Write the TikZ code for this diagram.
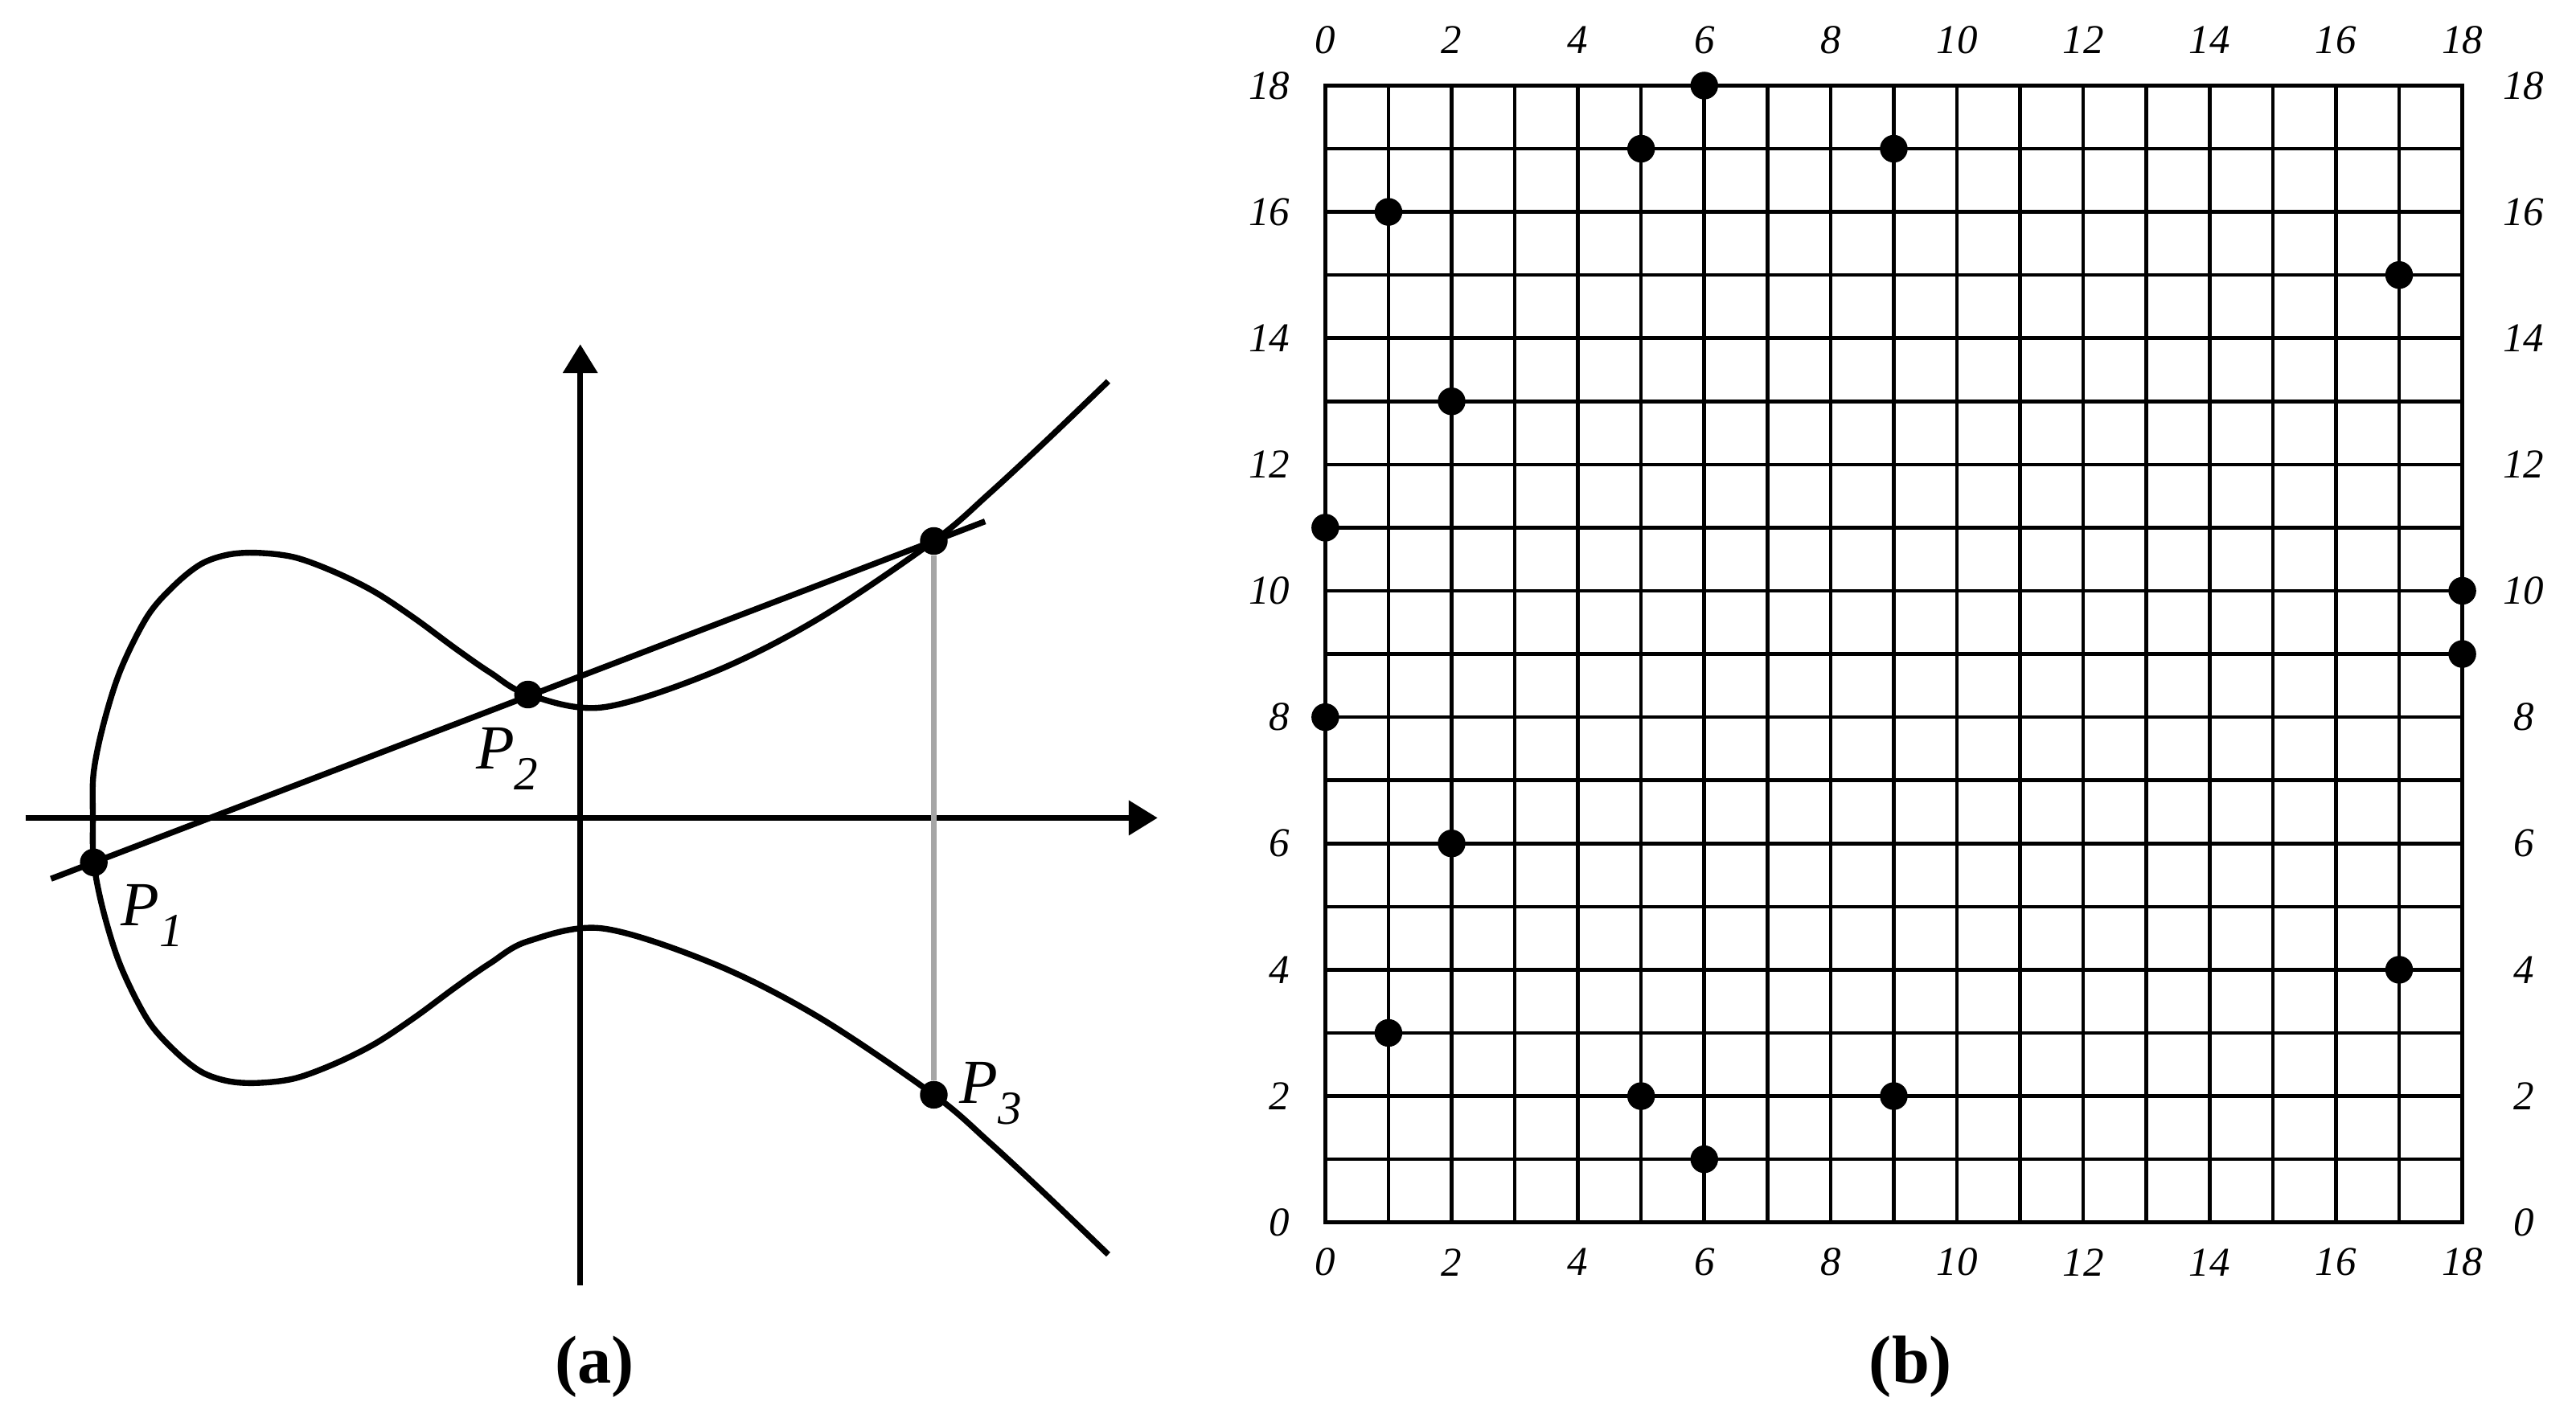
\documentclass[tikz,border=0pt]{standalone}
\usepackage{fontspec}
\setmainfont{Liberation Serif}
\usetikzlibrary{arrows.meta,calc}

% point label P with a lowered index
\newcommand{\ptname}[1]{P\raisebox{-7.3pt}{\fontsize{16.8}{17}\selectfont #1}}

\begin{document}
\begin{tikzpicture}[x=0.7856cm, y=0.7856cm,
  curve/.style={line width=2.1pt},
  axis/.style={line width=2.1pt, -{Triangle[length=10.2pt, width=11.9pt]}},
  dot/.style={circle, fill=black, inner sep=0pt, minimum size=9.8pt},
  plab/.style={inner sep=0pt, anchor=base west, font=\fontsize{22.2}{24}\selectfont\itshape},
  num/.style={inner sep=0pt, font=\fontsize{14.5}{16}\selectfont\itshape},
  subcap/.style={inner sep=0pt, font=\fontsize{24}{26}\selectfont\bfseries}]
\useasboundingbox (0,0) rectangle (40.78,22.445);

% (a) the curve
\begin{scope}[shift={(9.186,9.495)}]
% axes
\draw[axis] (-8.78,0) -- (9.14,0);
\draw[axis] (0,-7.4) -- (0,7.5);

% points
\node[dot] (p1) at (-7.701,-0.705) {};
\node[dot] (p2) at (-0.827,1.953) {};
\node[dot] (q)  at (5.597,4.384) {};
\node[dot] (p3) at (5.597,-4.384) {};

% curve
\draw[curve] plot[smooth, tension=0.55] coordinates {
  (8.358,6.913) (7.415,6.008) (6.473,5.134) (5.597,4.384) (3.766,3.15)
  (2.117,2.312) (0.351,1.75) (-0.827,1.953) (-1.423,2.299) (-1.974,2.681)
  (-2.609,3.150) (-3.246,3.573) (-3.883,3.891) (-4.520,4.125) (-5.113,4.197)
  (-5.579,4.167) (-6.005,4.018) (-6.429,3.680) (-6.853,3.191) (-7.277,2.343)
  (-7.55,1.475) (-7.705,0.705) (-7.715,0) (-7.701,-0.705) (-7.55,-1.475)
  (-7.277,-2.343) (-6.853,-3.191) (-6.429,-3.680) (-6.005,-4.018) (-5.579,-4.167)
  (-5.113,-4.197) (-4.520,-4.125) (-3.883,-3.891) (-3.246,-3.573) (-2.609,-3.150)
  (-1.974,-2.681) (-1.423,-2.299) (-0.827,-1.953) (0.351,-1.75) (2.117,-2.312)
  (3.766,-3.15) (5.597,-4.384) (6.473,-5.134) (7.415,-6.008) (8.358,-6.913)};

% secant and the mirror line
\draw[curve] ($(p1)!-0.051!(q)$) -- ($(p1)!1.061!(q)$);
\draw[line width=1.9pt, black!35] (q) -- (p3);

% labels
\node[plab] (lp1) at ($(p1)+(0.424,-1.004)$) {\ptname{1}};
\node[plab] (lp2) at ($(p2)+(-0.83,-1.181)$) {\ptname{2}};
\node[plab] (lp3) at ($(p3)+(0.403,-0.141)$) {\ptname{3}};
\end{scope}

% (b) the points on the grid
\begin{scope}[shift={(20.98,3.09)}]
\draw[line width=1.3pt, step=1] (0,0) grid (18,18);
\draw[line width=1.5pt] (0,0) rectangle (18,18);
\foreach \k in {0,2,...,18} {
  \node[num] (bot\k) at (\k,-0.63) {\k};
  \node[num] (top\k) at (\k,18.72) {\k};
  \node[num, anchor=east] (lft\k) at (-0.55,\k) {\k};
  \node[num] (rgt\k) at (18.97,\k) {\k};
}
\foreach \c/\r in {6/18, 5/17, 9/17, 1/16, 17/15, 2/13, 0/11, 18/10,
                   18/9, 0/8, 2/6, 17/4, 1/3, 5/2, 9/2, 6/1}
  \node[dot] (g\c-\r) at (\c,\r) {};
\end{scope}

% captions
\node[subcap] (capa) at (9.415,0.806) {(a)};
\node[subcap] (capb) at (30.247,0.806) {(b)};
\end{tikzpicture}
\end{document}
